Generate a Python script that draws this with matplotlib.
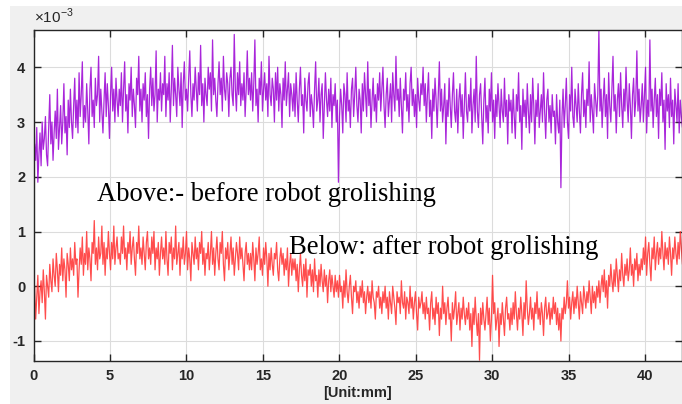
import numpy as np
import matplotlib
matplotlib.use("Agg")
import matplotlib.pyplot as plt
from matplotlib.patches import Rectangle

# surface profile, values in units of 1e-3
# (each row of 40 samples covers about 2.8 mm)
before = [
    2.1, 2.6, 2.3, 2.9, 1.9, 2.4, 2.8, 2.2, 3.0, 2.5, 2.7, 3.1, 2.4, 2.2, 2.9, 3.5, 2.6, 3.0, 2.3, 2.8,
    3.2, 2.7, 3.6, 2.5, 2.9, 3.3, 2.6, 3.0, 3.7, 2.8, 3.1, 2.4, 3.4, 2.9, 3.6, 3.0, 2.7, 3.3, 3.8, 2.9,
    3.4, 2.8, 3.9, 3.1, 3.5, 4.1, 2.9, 3.3, 3.0, 3.7, 3.2, 2.6, 3.6, 4.0, 3.1, 3.4, 2.9, 3.8, 3.3, 3.5,
    4.2, 3.0, 3.6, 3.2, 2.8, 3.4, 3.9, 3.1, 3.7, 3.3, 2.7, 3.5, 4.0, 3.2, 3.6, 3.0, 3.8, 3.4, 3.1, 3.6,
    3.3, 3.9, 3.0, 3.6, 4.1, 3.2, 3.5, 2.8, 3.7, 3.4, 4.0, 3.1, 3.6, 3.3, 2.9, 3.8, 3.5, 4.2, 3.2, 3.6,
    3.0, 3.7, 3.4, 3.9, 3.1, 3.5, 2.7, 3.6, 4.0, 3.3, 3.8, 3.2, 3.5, 4.3, 3.0, 3.6, 3.4, 3.9, 3.2, 3.7,
    3.5, 4.2, 3.1, 3.7, 3.4, 3.9, 3.0, 3.6, 4.4, 3.3, 3.8, 3.5, 3.1, 4.0, 3.6, 3.3, 3.9, 2.9, 3.7, 4.1,
    3.4, 3.6, 3.2, 3.8, 4.3, 3.5, 3.1, 3.7, 3.4, 4.0, 3.6, 3.2, 3.9, 3.5, 4.4, 3.3, 3.7, 3.0, 3.8, 3.5,
    3.3, 4.0, 3.6, 3.9, 3.2, 4.5, 3.5, 3.8, 3.4, 3.1, 3.7, 4.1, 3.5, 3.8, 3.2, 4.2, 3.6, 3.4, 3.9, 3.7,
    3.1, 3.8, 4.0, 3.5, 3.3, 4.6, 3.6, 3.2, 3.9, 3.5, 4.1, 3.3, 3.7, 3.4, 3.9, 3.1, 3.6, 4.3, 3.5, 3.8,
    3.4, 3.9, 3.2, 3.7, 4.5, 3.3, 3.6, 3.0, 3.8, 3.5, 4.1, 3.2, 3.6, 3.9, 3.4, 3.7, 3.1, 4.2, 3.5, 3.3,
    3.8, 3.6, 3.0, 3.9, 3.4, 4.0, 3.2, 3.7, 3.5, 2.9, 3.8, 3.4, 4.1, 3.3, 3.6, 3.9, 3.1, 3.7, 3.5, 3.2,
    3.7, 3.1, 3.9, 3.4, 3.0, 3.6, 4.0, 3.3, 3.5, 2.8, 3.8, 3.4, 3.2, 3.7, 3.9, 3.1, 3.5, 3.3, 2.9, 3.6,
    4.1, 3.2, 3.4, 3.8, 3.0, 3.5, 3.7, 2.7, 3.3, 3.9, 3.4, 3.1, 3.6, 3.2, 3.8, 2.9, 3.5, 3.3, 3.7, 3.0,
    3.4, 1.9, 3.1, 3.6, 3.3, 2.8, 3.7, 3.5, 3.0, 3.9, 3.2, 3.4, 2.9, 3.6, 3.8, 3.1, 3.5, 4.0, 3.3, 3.0,
    3.6, 3.4, 2.8, 3.7, 3.2, 3.9, 3.5, 3.1, 4.1, 3.3, 3.6, 2.9, 3.4, 3.8, 3.2, 3.5, 3.0, 3.7, 3.4, 3.9,
    3.2, 3.6, 4.0, 3.3, 2.9, 3.5, 3.8, 3.1, 3.4, 3.7, 3.0, 3.9, 3.5, 3.2, 4.2, 3.4, 3.6, 3.1, 3.8, 3.3,
    2.8, 3.6, 3.4, 3.9, 3.2, 3.5, 3.0, 3.7, 4.0, 3.3, 3.6, 3.1, 3.5, 2.9, 3.8, 3.4, 3.2, 3.7, 3.5, 4.0,
    3.3, 3.7, 3.0, 3.5, 3.9, 3.1, 3.4, 2.7, 3.6, 3.2, 3.8, 3.4, 2.9, 3.5, 4.1, 3.2, 3.6, 3.0, 3.3, 3.7,
    2.6, 3.4, 3.1, 3.8, 3.3, 2.9, 3.5, 3.9, 3.2, 3.0, 3.6, 2.8, 3.4, 3.7, 3.1, 3.5, 2.7, 3.3, 3.9, 3.2,
    3.0, 3.5, 3.2, 3.8, 2.8, 3.3, 3.6, 3.0, 4.2, 3.2, 2.9, 3.5, 3.7, 3.1, 2.6, 3.4, 3.8, 3.0, 3.3, 2.8,
    3.6, 3.2, 3.9, 3.0, 3.4, 2.7, 3.5, 3.1, 3.7, 3.3, 2.9, 3.6, 3.2, 3.0, 3.8, 3.1, 3.4, 2.6, 3.5, 3.2,
    3.4, 2.8, 3.6, 3.1, 2.7, 3.5, 3.2, 3.9, 3.0, 3.3, 2.5, 3.6, 3.1, 3.4, 2.9, 3.7, 3.2, 2.8, 3.5, 3.0,
    3.8, 3.3, 2.6, 3.4, 3.1, 3.7, 2.9, 3.2, 3.5, 3.0, 3.9, 3.2, 2.7, 3.4, 3.6, 3.0, 3.3, 2.8, 3.5, 3.1,
    3.2, 2.6, 3.5, 3.0, 2.8, 3.4, 1.8, 3.1, 3.6, 2.9, 3.3, 3.8, 3.0, 2.7, 3.5, 3.2, 4.0, 3.1, 2.9, 3.6,
    3.3, 3.0, 3.7, 3.2, 2.8, 3.5, 3.9, 3.1, 3.4, 2.9, 3.6, 3.3, 4.1, 3.0, 3.5, 3.2, 2.8, 3.7, 3.4, 3.1,
    3.5, 4.7, 3.2, 3.6, 2.9, 3.4, 3.8, 3.1, 3.5, 2.7, 3.9, 3.3, 3.0, 3.6, 4.2, 3.2, 3.5, 2.8, 3.4, 3.7,
    3.1, 3.9, 3.3, 2.9, 3.6, 3.2, 4.0, 3.4, 3.0, 3.7, 3.3, 2.7, 3.5, 3.8, 3.1, 3.4, 4.3, 3.2, 3.6, 3.0,
    3.3, 3.7, 3.0, 3.5, 4.0, 2.8, 3.4, 3.1, 4.5, 3.2, 3.6, 2.9, 3.4, 3.8, 3.1, 3.5, 2.7, 3.6, 3.3, 3.9,
    3.0, 3.4, 2.5, 3.7, 3.2, 3.5, 2.9, 3.8, 3.1, 3.4, 2.6, 3.6, 3.3, 3.0, 3.7, 2.8, 3.4, 3.1, 2.9, 3.3,
]

after = [
    -0.4, 0.0, -0.6, -0.2, 0.2, -0.5, -0.1, 0.1, -0.3, 0.3, -0.1, -0.6, 0.2, 0.0, -0.2, 0.4, 0.1, -0.1, 0.5, 0.2,
    0.0, 0.6, 0.3, -0.1, 0.4, 0.2, 0.7, 0.1, 0.5, 0.3, -0.2, 0.6, 0.4, 0.1, 0.7, 0.3, 0.5, 0.2, 0.8, 0.4,
    0.5, -0.2, 0.3, 0.7, 0.4, 0.9, 0.2, 0.6, 0.4, 1.0, 0.3, 0.7, 0.5, 0.1, 0.8, 0.6, 1.2, 0.4, 0.7, 0.3,
    0.9, 0.5, 0.6, 1.1, 0.4, 0.8, 0.2, 0.7, 0.5, 1.0, 0.6, 0.3, 0.8, 0.5, 1.1, 0.4, 0.7, 0.9, 0.5, 0.6,
    0.4, 0.9, 0.6, 1.1, 0.5, 0.7, 0.3, 0.8, 0.6, 1.0, 0.4, 0.7, 0.9, 0.5, 0.2, 0.8, 0.6, 1.1, 0.5, 0.7,
    0.4, 0.9, 0.6, 0.3, 0.8, 1.0, 0.5, 0.7, 0.4, 0.9, 0.6, 1.0, 0.3, 0.7, 0.5, 0.8, 0.2, 0.6, 0.9, 0.5,
    0.7, 0.4, 1.0, 0.5, 0.2, 0.8, 0.6, 0.9, 0.3, 0.7, 0.5, 1.1, 0.4, 0.6, 0.8, 0.2, 0.7, 0.5, 0.9, 0.4,
    0.6, 1.0, 0.3, 0.7, 0.5, 0.1, 0.8, 0.6, 0.4, 0.9, 0.5, 0.7, 0.3, 0.8, 0.6, 1.0, 0.4, 0.7, 0.2, 0.6,
    0.5, 0.8, 0.3, 0.6, 1.0, 0.4, 0.7, 0.2, 0.6, 0.9, 0.5, 0.3, 0.8, 0.6, 1.0, 0.4, 0.1, 0.7, 0.5, 0.8,
    0.3, 0.6, 0.9, 0.4, 0.7, 0.2, 0.5, 0.8, 0.6, 0.3, 0.9, 0.5, 0.7, 0.4, 0.1, 0.6, 0.8, 0.4, 0.6, 0.3,
    0.6, 0.3, 0.8, 0.5, 0.1, 0.7, 0.4, 0.6, 0.9, 0.3, 0.5, 0.2, 0.7, 0.4, 0.8, 0.5, 0.0, 0.6, 0.3, 0.7,
    0.4, 0.2, 0.6, 0.5, 0.8, 0.3, 0.1, 0.5, 0.7, 0.4, 0.6, 0.2, 0.5, 0.3, 0.7, 0.0, 0.4, 0.6, 0.2, 0.5,
    0.3, 0.5, 0.1, 0.4, -0.1, 0.3, 0.6, 0.2, 0.0, 0.4, 0.1, 0.5, -0.2, 0.3, 0.2, 0.4, 0.0, 0.3, -0.1, 0.5,
    0.1, 0.2, -0.2, 0.3, 0.0, 0.4, 0.1, -0.1, 0.3, 0.0, 0.2, -0.3, 0.1, 0.3, -0.1, 0.2, 0.0, -0.2, 0.2, -0.1,
    0.1, -0.2, 0.2, -0.1, 0.0, -0.4, 0.1, -0.2, 0.3, -0.1, -0.3, 0.0, 0.2, -0.2, -0.5, 0.0, -0.1, 0.1, -0.3, -0.1,
    -0.4, 0.0, -0.2, 0.1, -0.3, -0.1, -0.5, -0.2, 0.0, -0.3, -0.1, -0.4, 0.1, -0.2, -0.3, -0.6, -0.1, -0.2, 0.0, -0.4,
    -0.2, -0.5, -0.1, -0.3, 0.0, -0.4, -0.2, -0.6, -0.1, -0.3, -0.5, 0.0, -0.2, -0.4, -0.7, -0.1, -0.3, -0.2, -0.5, 0.1,
    -0.3, -0.4, -0.1, -0.6, -0.2, -0.3, -0.5, 0.0, -0.4, -0.2, -0.6, -0.3, -0.1, -0.5, -0.8, -0.2, -0.4, -0.3, -0.1, -0.5,
    -0.3, -0.6, -0.2, -0.5, -0.4, -0.8, -0.3, -0.1, -0.6, -0.4, -0.7, -0.2, -0.5, -0.3, -0.9, -0.4, -0.6, 0.0, -0.5, -0.3,
    -0.7, -0.4, -0.2, -0.6, -0.5, -1.0, -0.3, -0.6, -0.4, -0.1, -0.7, -0.5, -0.3, -0.8, -0.4, -0.6, -0.2, -0.5, -0.7, -0.4,
    -0.6, -0.3, -0.8, -0.5, -1.1, -0.4, -0.7, -0.2, -0.6, -0.9, -0.5, -1.35, -0.4, -0.7, -0.3, -0.6, -0.8, -0.5, -0.2, -0.7,
    -0.4, -1.0, -0.6, 0.2, -0.5, -0.3, -0.8, -0.6, -0.4, -1.1, -0.5, -0.7, -0.3, -0.6, -0.9, -0.4, -0.2, -0.6, -0.5, -0.8,
    -0.4, -0.7, -0.3, -0.6, -0.1, -0.5, -0.8, -0.4, -0.6, -0.2, -0.5, -0.9, -0.3, -0.6, 0.1, -0.4, -0.7, -0.5, -0.2, -0.6,
    -0.4, -0.8, -0.3, -0.5, -0.1, -0.6, -0.4, -0.7, -0.3, -0.5, -0.9, -0.4, -0.2, -0.6, -0.5, -0.3, -0.7, -0.4, -0.6, -0.2,
    -0.5, -0.3, -0.7, -0.4, -0.8, -0.5, -1.0, -0.4, -0.6, -0.2, -0.5, -0.3, 0.1, -0.4, -0.2, -0.6, -0.3, -0.1, -0.5, -0.2,
    -0.4, 0.0, -0.3, -0.6, -0.1, -0.3, -0.5, 0.0, -0.2, -0.4, -0.1, -0.3, 0.1, -0.2, -0.5, 0.0, -0.3, -0.1, -0.4, 0.0,
    -0.2, 0.1, -0.3, 0.0, 0.2, -0.1, 0.3, -0.2, 0.1, -0.4, 0.2, 0.0, 0.4, 0.1, -0.1, 0.3, 0.0, 0.5, 0.2, -0.1,
    0.3, 0.1, 0.6, 0.2, 0.0, 0.4, 0.2, 0.5, 0.1, 0.3, 0.7, 0.2, 0.4, 0.0, 0.5, 0.3, 0.6, 0.1, 0.4, 0.2,
    0.5, 0.3, 0.7, 0.4, 0.9, 0.2, 0.6, 0.8, 0.4, 0.1, 0.7, 0.5, 0.9, 0.3, 0.6, 0.8, 0.4, 0.7, 0.5, 1.0,
    0.6, 0.3, 0.8, 0.5, 0.7, 0.4, 0.9, 0.6, 0.2, 0.7, 0.5, 0.9, 0.6, 0.4, 0.8, 0.5, 1.0, 0.7, 0.4, 0.8,
]

length_mm = 42.5
x_ticks = [0, 5, 10, 15, 20, 25, 30, 35, 40]
y_ticks = [-1, 0, 1, 2, 3, 4]

x_before = np.arange(len(before)) * length_mm / (len(before) - 1)
x_after = np.arange(len(after)) * length_mm / (len(after) - 1)

plt.rcParams["axes.unicode_minus"] = False

fig = plt.figure(figsize=(6.82, 4.04), dpi=100, facecolor="white")
# matlab style grey window background (small white margin top-left)
fig.patches.append(Rectangle((10 / 682, 0), 1, 1 - 6 / 404, transform=fig.transFigure,
                             facecolor="#f0f0f0", edgecolor="none", zorder=-10))

ax = fig.add_axes([33.5 / 682, 43.3 / 404, 1 - 33.5 / 682, (360.7 - 29.5) / 404])
ax.set_facecolor("white")

ax.plot(x_before, before, color="#9a00d4", lw=0.9, alpha=0.85)
ax.plot(x_after, after, color="#ff2e2e", lw=0.9, alpha=0.85)

ax.set_xlim(0, 42.4)
ax.set_ylim(-1.36, 4.69)
ax.set_xticks(x_ticks)
ax.set_yticks(y_ticks)
ax.grid(True, color="#dcdcdc", lw=0.8)
ax.set_axisbelow(True)

ax.tick_params(direction="in", length=5, width=1, colors="#262626", top=True, right=True,
               labelsize=10.5, pad=6)
for lab in ax.get_xticklabels() + ax.get_yticklabels():
    lab.set_fontfamily("Liberation Sans")
    lab.set_fontweight("bold")
for sp in ax.spines.values():
    sp.set_color("#262626")
    sp.set_linewidth(1)

ax.set_xlabel("[Unit:mm]", fontsize=10.5, fontweight="bold", family="Liberation Sans",
              color="#262626", labelpad=2)

ax.text(0.0, 1.012, r"×10$^{\mathregular{-3}}$", transform=ax.transAxes, fontsize=11,
        family="Liberation Sans", color="#262626", ha="left", va="bottom")

ax.text(4.18, 1.56, "Above:- before robot grolishing", family="Liberation Serif",
        fontsize=19.2, color="black", va="baseline")
ax.text(16.7, 0.58, "Below: after robot grolishing", family="Liberation Serif",
        fontsize=19.2, color="black", va="baseline")

fig.savefig("out.png", dpi=100, facecolor=fig.get_facecolor())
